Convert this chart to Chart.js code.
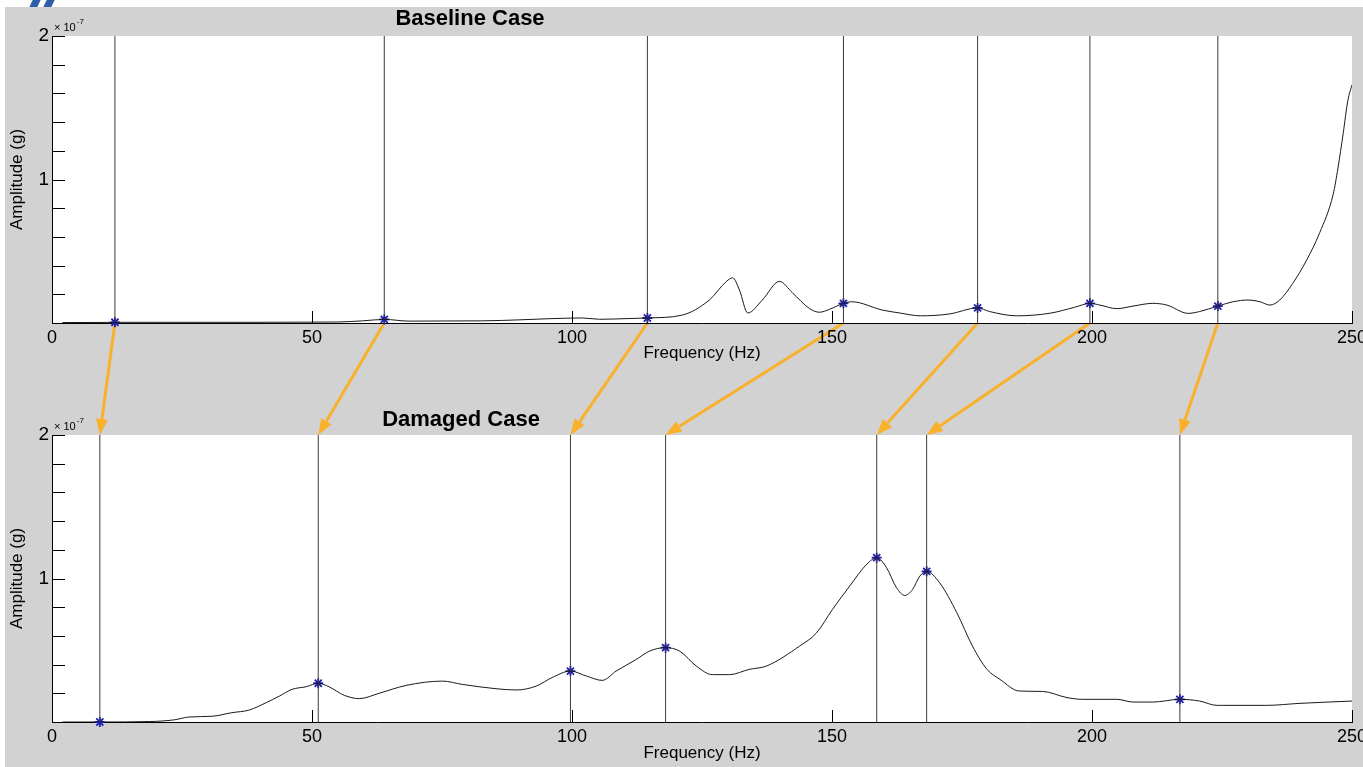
<!DOCTYPE html>
<html>
<head>
<meta charset="utf-8">
<script src="https://cdn.jsdelivr.net/npm/chart.js@4"></script>
<style>
  body { margin: 0; background: #fff; }
  #page { position: relative; width: 1363px; height: 767px; overflow: hidden; background: #fff; }
  #bg { position: absolute; left: 5px; top: 7px; right: 0; bottom: 0; background: #d2d2d2; }
  .stripe { position: absolute; top: 0; width: 8px; height: 7px; background: #2f5fa6; transform: skewX(-25deg); }
  canvas { position: absolute; left: 0; }
</style>
</head>
<body>
<div id="page">
  <div id="bg"></div>
  <div class="stripe" style="left:31px"></div>
  <div class="stripe" style="left:45px"></div>
  <canvas id="arrows" width="1363" height="767" style="top:0"></canvas>
  <canvas id="baseline" width="1363" height="383" style="top:0"></canvas>
  <canvas id="damaged" width="1363" height="384" style="top:383px"></canvas>
</div>
<script>
// amplitudes in units of 1e-7 g
const baselineFreq = [2, 10, 12.1, 20, 30, 40, 50, 55, 59.7, 63.9, 68.7, 75, 82.8, 90, 95.6, 102, 105.3, 110, 114.5,
  121.2, 126.4, 129.7, 130.9, 132.2, 133.8, 136.6, 139.9, 142.4, 145.7, 147.6, 149.5, 152.2, 153.8, 159.7, 163, 167,
  172.6, 178, 180.3, 185.5, 191.9, 196.7, 199.6, 201.5, 204.8, 207.9, 211.7, 214.4, 218.5, 220.7, 224.2, 227.1, 230,
  232.3, 234.2, 236.1, 238.6, 241.3, 243.8, 246.4, 247.3, 248.3, 249.2, 250];
const baselineAmp = [0.003, 0.004, 0.005, 0.005, 0.005, 0.005, 0.006, 0.007, 0.015, 0.025, 0.013, 0.014, 0.015, 0.022, 0.03, 0.035, 0.026, 0.03, 0.035,
  0.055, 0.16, 0.29, 0.315, 0.23, 0.07, 0.16, 0.29, 0.21, 0.10, 0.075, 0.095, 0.137, 0.148, 0.09, 0.07, 0.05,
  0.063, 0.105, 0.08, 0.05, 0.068, 0.11, 0.137, 0.125, 0.10, 0.118, 0.137, 0.125, 0.067, 0.08, 0.118, 0.148, 0.16,
  0.148, 0.125, 0.16, 0.276, 0.44, 0.63, 0.9, 1.08, 1.32, 1.55, 1.66];

const damagedFreq = [2, 9.2, 18.7, 23.5, 26.4, 30.8, 34.6, 37.9, 41.2, 43.7, 46.2, 48.9, 51.2, 53.3, 56.2, 59.1, 62.9,
  68.1, 75.1, 78.9, 85.4, 89.3, 93.1, 96.2, 99.7, 102.8, 105.8, 108.5, 112.4, 114.9, 118, 120.7, 123.9, 127, 130.3,
  134.1, 137.4, 143.8, 147, 150.1, 153.4, 156.7, 158.6, 160.5, 162.4, 164, 165.5, 166.9, 168.2, 170.7, 174, 177,
  179.8, 182.3, 186, 190.5, 195.2, 198.2, 204.8, 207.9, 211.7, 216.9, 220.7, 224, 233.6, 240, 250];
const damagedAmp = [0, 0, 0.003, 0.015, 0.035, 0.04, 0.065, 0.083, 0.135, 0.18, 0.228, 0.246, 0.27, 0.245, 0.186, 0.163, 0.2,
  0.255, 0.285, 0.262, 0.232, 0.223, 0.25, 0.31, 0.355, 0.32, 0.29, 0.355, 0.437, 0.494, 0.518, 0.494, 0.39, 0.33, 0.33,
  0.367, 0.39, 0.53, 0.62, 0.785, 0.947, 1.10, 1.145, 1.075, 0.936, 0.882, 0.924, 1.017, 1.05, 0.97, 0.762, 0.53,
  0.367, 0.297, 0.216, 0.213, 0.17, 0.158, 0.158, 0.139, 0.139, 0.158, 0.146, 0.116, 0.116, 0.13, 0.146];

const baselinePeakFreq = [12.1, 63.9, 114.5, 152.2, 178.0, 199.6, 224.2];
const baselinePeakAmp = [0.005, 0.025, 0.035, 0.137, 0.105, 0.137, 0.118];
const damagedPeakFreq = [9.2, 51.2, 99.7, 118.0, 158.6, 168.2, 216.9];
const damagedPeakAmp = [0, 0.27, 0.355, 0.518, 1.145, 1.05, 0.158];

const freqTicks = [0, 50, 100, 150, 200, 250];
const ampTicks = [0, 0.2, 0.4, 0.6, 0.8, 1, 1.2, 1.4, 1.6, 1.8, 2];
const ampLabels = [1, 2];

const FONT = '"Liberation Sans", Arial, sans-serif';

const panelDecor = {
  id: 'panelDecor',
  beforeDraw(chart) {
    const {ctx, chartArea: a} = chart;
    ctx.save();
    ctx.fillStyle = '#fff';
    ctx.fillRect(a.left, a.top, a.right - a.left, a.bottom - a.top);
    ctx.restore();
  },
  afterDraw(chart, args, opts) {
    const {ctx, chartArea: a, scales: {x, y}} = chart;
    ctx.save();
    // inward tick marks
    ctx.strokeStyle = '#000';
    ctx.lineWidth = 1;
    ctx.beginPath();
    y.ticks.forEach(t => {
      if (t.value <= 0) return;
      const py = Math.round(y.getPixelForValue(t.value)) + 0.5;
      ctx.moveTo(a.left, py);
      ctx.lineTo(a.left + 13, py);
    });
    x.ticks.forEach(t => {
      if (t.value <= 0) return;
      const px = Math.round(x.getPixelForValue(t.value)) + 0.5;
      ctx.moveTo(px, a.bottom);
      ctx.lineTo(px, a.bottom - 12);
    });
    ctx.stroke();

    ctx.fillStyle = '#000';
    ctx.font = 'bold 22px ' + FONT;
    ctx.textAlign = 'center';
    ctx.textBaseline = 'middle';
    ctx.fillText(opts.title, opts.titleX, opts.titleY);

    ctx.textAlign = 'left';
    ctx.font = '11px ' + FONT;
    ctx.fillText('× 10', a.left + 2, a.top - 8);
    const w = ctx.measureText('× 10').width;
    ctx.font = '8px ' + FONT;
    ctx.fillText('-7', a.left + 3 + w, a.top - 14);
    ctx.restore();
  }
};

function makePanel(id, freq, amp, peakFreq, peakAmp, cfg) {
  const vlines = peakFreq.map(f => ({
    data: [{x: f, y: 0}, {x: f, y: 2}],
    borderColor: '#3a3a3a',
    borderWidth: 1,
    pointRadius: 0
  }));
  return new Chart(document.getElementById(id), {
    type: 'line',
    data: {
      datasets: [
        {
          data: freq.map((f, i) => ({x: f, y: amp[i]})),
          borderColor: '#1a1a1a',
          borderWidth: 1,
          pointRadius: 0,
          cubicInterpolationMode: 'monotone'
        },
        ...vlines,
        {
          data: peakFreq.map((f, i) => ({x: f, y: peakAmp[i]})),
          showLine: false,
          pointStyle: 'star',
          pointRadius: 5,
          borderColor: '#1f1fb4',
          borderWidth: 1.8,
          clip: false
        }
      ]
    },
    options: {
      responsive: false,
      animation: false,
      events: [],
      layout: { padding: { top: cfg.top, right: 11, left: 0, bottom: 0 } },
      plugins: {
        legend: { display: false },
        tooltip: { enabled: false },
        panelDecor: { title: cfg.title, titleX: cfg.titleX, titleY: cfg.titleY }
      },
      scales: {
        x: {
          type: 'linear',
          min: 0,
          max: 250,
          afterBuildTicks: s => { s.ticks = freqTicks.map(v => ({value: v})); },
          ticks: { font: { family: FONT, size: 18 }, color: '#000', padding: 4, maxRotation: 0, autoSkip: false },
          grid: { drawOnChartArea: false, drawTicks: false },
          border: { color: '#000', width: 1 },
          title: {
            display: true,
            text: 'Frequency (Hz)',
            font: { family: FONT, size: 17 },
            color: '#000',
            padding: { top: 0, bottom: cfg.xTitlePad }
          },
          afterFit: s => { s.height = cfg.xHeight; s.paddingLeft = 0; s.paddingRight = 0; }
        },
        y: {
          type: 'linear',
          min: 0,
          max: 2,
          afterBuildTicks: s => { s.ticks = ampTicks.map(v => ({value: v})); },
          ticks: {
            font: { family: FONT, size: 19 },
            color: '#000',
            padding: 3,
            callback: v => ampLabels.includes(v) ? String(v) : ''
          },
          grid: { drawOnChartArea: false, drawTicks: false },
          border: { color: '#000', width: 1 },
          title: {
            display: true,
            text: 'Amplitude (g)',
            font: { family: FONT, size: 17 },
            color: '#000',
            padding: { top: 7, bottom: 0 }
          },
          afterFit: s => { s.width = 52; s.paddingTop = 0; s.paddingBottom = 0; }
        }
      }
    },
    plugins: [panelDecor]
  });
}

const topChart = makePanel('baseline', baselineFreq, baselineAmp, baselinePeakFreq, baselinePeakAmp,
  { top: 36, xHeight: 60, xTitlePad: 19, title: 'Baseline Case', titleX: 470, titleY: 19 });
const bottomChart = makePanel('damaged', damagedFreq, damagedAmp, damagedPeakFreq, damagedPeakAmp,
  { top: 52, xHeight: 45, xTitlePad: 3, title: 'Damaged Case', titleX: 461, titleY: 37 });

// orange arrows: each baseline peak moves to its damaged counterpart
function drawArrows() {
  const ctx = document.getElementById('arrows').getContext('2d');
  const bottomOffset = 383;
  ctx.strokeStyle = '#f9b02a';
  ctx.fillStyle = '#f9b02a';
  ctx.lineWidth = 3;
  baselinePeakFreq.forEach((f, i) => {
    const x0 = topChart.scales.x.getPixelForValue(f);
    const y0 = topChart.chartArea.bottom;
    const x1 = bottomChart.scales.x.getPixelForValue(damagedPeakFreq[i]);
    const y1 = bottomChart.chartArea.top + bottomOffset;
    const ang = Math.atan2(y1 - y0, x1 - x0);
    const L = 16, W = 6;
    const bx = x1 - L * Math.cos(ang), by = y1 - L * Math.sin(ang);
    ctx.beginPath();
    ctx.moveTo(x0, y0);
    ctx.lineTo(bx, by);
    ctx.stroke();
    ctx.beginPath();
    ctx.moveTo(x1, y1);
    ctx.lineTo(bx + W * Math.sin(ang), by - W * Math.cos(ang));
    ctx.lineTo(bx - W * Math.sin(ang), by + W * Math.cos(ang));
    ctx.closePath();
    ctx.fill();
  });
}
drawArrows();
</script>
</body>
</html>
